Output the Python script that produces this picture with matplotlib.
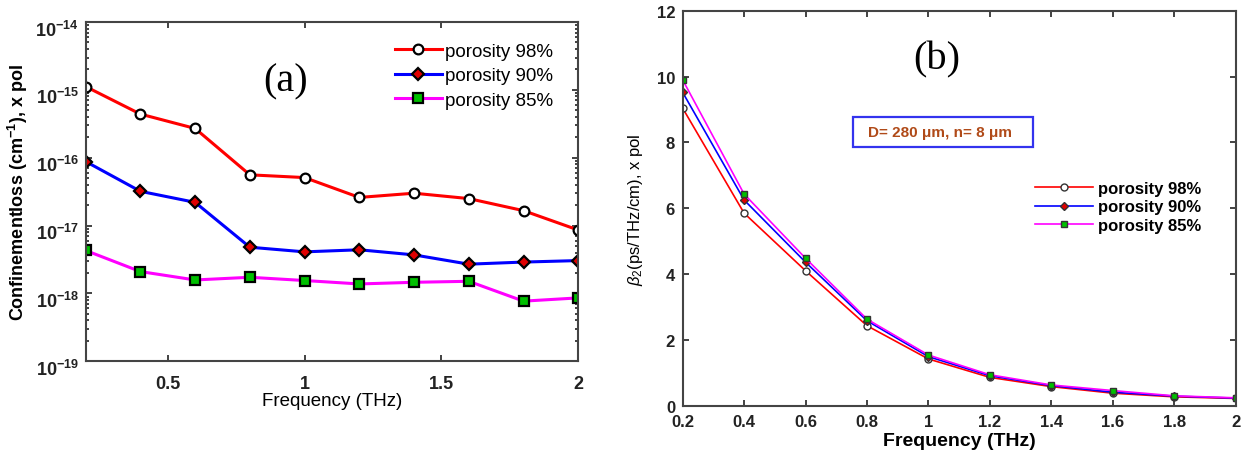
import numpy as np
import matplotlib.pyplot as plt
import matplotlib.transforms as mtransforms
from matplotlib.patches import Rectangle
from matplotlib.ticker import LogLocator, FixedLocator, NullFormatter

plt.rcParams['font.family'] = ['Liberation Sans', 'DejaVu Sans']
plt.rcParams['mathtext.fontset'] = 'custom'
plt.rcParams['mathtext.rm'] = 'Liberation Sans'
plt.rcParams['mathtext.it'] = 'Liberation Sans:italic'
plt.rcParams['mathtext.bf'] = 'Liberation Sans:bold'

freq = [0.2, 0.4, 0.6, 0.8, 1.0, 1.2, 1.4, 1.6, 1.8, 2.0]
labels = ['porosity 98%', 'porosity 90%', 'porosity 85%']

# confinement loss (cm^-1), x pol
loss_98 = [1.12e-15, 4.4e-16, 2.7e-16, 5.6e-17, 5.1e-17, 2.6e-17, 3.0e-17, 2.5e-17, 1.66e-17, 8.6e-18]
loss_90 = [8.8e-17, 3.2e-17, 2.2e-17, 4.8e-18, 4.1e-18, 4.4e-18, 3.7e-18, 2.7e-18, 2.9e-18, 3.05e-18]
loss_85 = [4.3e-18, 2.1e-18, 1.58e-18, 1.73e-18, 1.55e-18, 1.38e-18, 1.46e-18, 1.51e-18, 7.7e-19, 8.6e-19]

# beta2 (ps/THz/cm), x pol
beta_98 = [9.04, 5.85, 4.10, 2.43, 1.42, 0.86, 0.58, 0.38, 0.27, 0.22]
beta_90 = [9.52, 6.25, 4.36, 2.58, 1.49, 0.91, 0.61, 0.41, 0.29, 0.23]
beta_85 = [9.90, 6.43, 4.48, 2.63, 1.54, 0.94, 0.63, 0.46, 0.30, 0.24]

line_colors = ['#ff0000', '#0000ff', '#ff00ff']
markers = ['o', 'D', 's']
face_colors = ['white', '#e00000', '#00c000']

fig = plt.figure(figsize=(12.43, 4.56), dpi=100)

# ---- (a) confinement loss ----
ax1 = fig.add_axes([0.0689, 0.2055, 0.3963, 0.744])
for y, c, m, fc, lab in zip([loss_98, loss_90, loss_85], line_colors, markers, face_colors, labels):
    ms = 7 if m != 'D' else 6
    ax1.semilogy(freq, y, color=c, lw=2.2, marker=m, ms=ms, mfc=fc, mec='black', mew=1.6, label=lab)
ax1.set_xlim(0.2, 2)
ax1.set_ylim(1e-19, 1e-14)
ax1.xaxis.set_major_locator(FixedLocator([0.5, 1, 1.5, 2]))
ax1.set_xticklabels(['0.5', '1', '1.5', '2'])
ax1.yaxis.set_major_locator(LogLocator(base=10, numticks=10))
ax1.yaxis.set_minor_locator(LogLocator(base=10, subs=np.arange(2, 10), numticks=10))
ax1.yaxis.set_minor_formatter(NullFormatter())
ax1.tick_params(which='both', direction='in', top=True, right=True, labelsize=13, width=1.2, colors='#222222')
ax1.tick_params(which='major', length=4)
ax1.tick_params(which='minor', length=2.5)
ax1.tick_params(axis='x', pad=10)
ax1.tick_params(axis='y', pad=5)
for t in ax1.get_xticklabels() + ax1.get_yticklabels():
    t.set_fontweight('bold')
# power-of-ten labels sit a little below their ticks
shift = mtransforms.ScaledTranslation(0, -4 / 72, fig.dpi_scale_trans)
for t in ax1.get_yticklabels():
    t.set_transform(t.get_transform() + shift)
for s in ax1.spines.values():
    s.set_linewidth(1.5)
    s.set_color('#444444')
ax1.set_xlabel('Frequency (THz)', fontsize=13.5, labelpad=0)
ax1.set_ylabel(r'Confinementloss (cm$^{\mathbf{-1}}$), x pol', fontsize=13, fontweight='bold', labelpad=4)
ax1.text(0.405, 0.826, '(a)', transform=ax1.transAxes, fontsize=29, family='Liberation Serif',
         ha='center', va='center')
ax1.legend(loc='upper left', bbox_to_anchor=(0.628, 0.939), frameon=False, fontsize=13.5,
           handlelength=2.5, handletextpad=0.16, labelspacing=0.39, borderaxespad=0, borderpad=0)

# ---- (b) GVD ----
ax2 = fig.add_axes([0.5492, 0.1081, 0.4449, 0.8662])
for y, c, m, fc, lab in zip([beta_98, beta_90, beta_85], line_colors, markers, face_colors, labels):
    ms = 5 if m != 'D' else 4.5
    ax2.plot(freq, y, color=c, lw=1.2, marker=m, ms=ms, mfc=fc, mec='#333333', mew=1.0, label=lab)
ax2.set_xlim(0.2, 2)
ax2.set_ylim(0, 12)
ax2.set_xticks(freq)
ax2.set_xticklabels(['0.2', '0.4', '0.6', '0.8', '1', '1.2', '1.4', '1.6', '1.8', '2'])
ax2.set_yticks([0, 2, 4, 6, 8, 10, 12])
ax2.tick_params(direction='in', top=True, right=True, labelsize=12, length=4, width=1.2, colors='#222222')
ax2.tick_params(axis='x', pad=6)
ax2.tick_params(axis='y', pad=5.5)
for t in ax2.get_xticklabels() + ax2.get_yticklabels():
    t.set_fontweight('bold')
for s in ax2.spines.values():
    s.set_linewidth(1.5)
    s.set_color('#444444')
ax2.set_xlabel('Frequency (THz)', fontsize=14, fontweight='bold', labelpad=2)
ax2.set_ylabel(r'$\beta_2$(ps/THz/cm), x pol', fontsize=12, labelpad=8)
ax2.text(0.46, 0.878, '(b)', transform=ax2.transAxes, fontsize=29, family='Liberation Serif',
         ha='center', va='center')
ax2.add_patch(Rectangle((0.308, 0.655), 0.3255, 0.076, transform=ax2.transAxes,
                        fc='white', ec='#3333ee', lw=1.6, zorder=5))
ax2.text(0.465, 0.693, u'D= 280 \u03bcm, n= 8 \u03bcm', transform=ax2.transAxes, fontsize=11,
         fontweight='bold', color='#b04a18', ha='center', va='center', zorder=6)
ax2.legend(loc='upper left', bbox_to_anchor=(0.637, 0.570), frameon=False,
           handlelength=3.5, handletextpad=0.3, labelspacing=0.23, borderaxespad=0, borderpad=0,
           prop={'weight': 'bold', 'size': 12})

fig.savefig('out.png', dpi=100)
